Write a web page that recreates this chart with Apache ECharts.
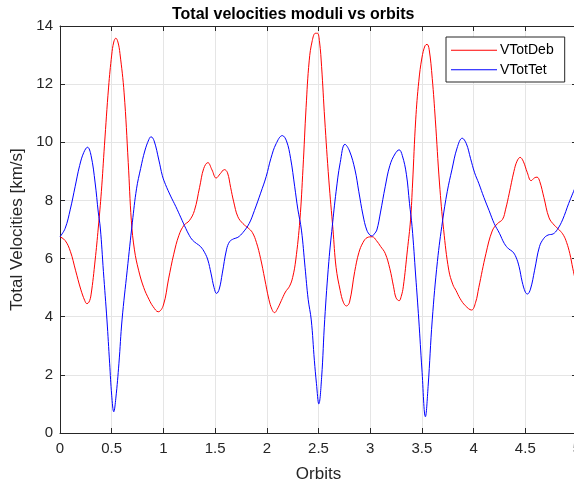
<!DOCTYPE html>
<html>
<head>
<meta charset="utf-8">
<script src="https://cdn.jsdelivr.net/npm/echarts@6/dist/echarts.min.js"></script>
<style>
  html, body { margin: 0; padding: 0; background: #fff; overflow: hidden; }
  #chart { width: 574px; height: 484px; }
</style>
</head>
<body>
<div id="chart"></div>
<script>
// Orbit positions and total velocity moduli [km/s] for the debris (VTotDeb)
const orbitsDeb = [0.00,0.05,0.10,0.15,0.20,0.24,0.26,0.28,0.30,0.34,0.37,0.40,0.43,0.47,0.50,0.52,0.54,0.56,0.58,0.62,0.66,0.69,0.72,0.76,0.81,0.86,0.90,0.95,1.00,1.05,1.10,1.15,1.20,1.25,1.30,1.35,1.39,1.43,1.47,1.51,1.55,1.59,1.62,1.65,1.68,1.72,1.77,1.82,1.86,1.90,1.94,1.98,2.02,2.05,2.075,2.10,2.14,2.18,2.22,2.25,2.28,2.32,2.35,2.38,2.41,2.44,2.47,2.49,2.51,2.53,2.56,2.60,2.64,2.67,2.71,2.74,2.77,2.80,2.85,2.89,2.93,2.97,3.02,3.06,3.10,3.145,3.19,3.226,3.25,3.28,3.30,3.32,3.36,3.39,3.41,3.44,3.47,3.50,3.53,3.55,3.57,3.60,3.63,3.67,3.71,3.76,3.80,3.83,3.87,3.92,3.98,4.02,4.05,4.12,4.18,4.23,4.28,4.31,4.345,4.39,4.42,4.45,4.48,4.52,4.556,4.59,4.614,4.64,4.68,4.73,4.78,4.83,4.87,4.90,4.93,4.96,5.00];
const vTotDeb = [6.75,6.62,6.25,5.6,4.95,4.55,4.45,4.5,4.75,5.95,7.05,8.3,9.9,11.9,13.0,13.45,13.58,13.45,13.05,11.7,9.3,7.3,6.3,5.6,5.0,4.6,4.35,4.17,4.4,5.3,6.15,6.8,7.15,7.3,7.65,8.45,9.1,9.3,9.05,8.77,8.92,9.06,8.95,8.45,7.95,7.44,7.2,7.05,6.9,6.55,6.0,5.3,4.6,4.25,4.14,4.25,4.55,4.85,5.05,5.35,5.95,7.33,9.1,11.2,12.8,13.5,13.75,13.75,13.45,12.6,10.8,8.7,7.0,5.7,4.9,4.5,4.37,4.5,5.55,6.2,6.55,6.72,6.75,6.62,6.42,6.18,5.65,5.03,4.65,4.55,4.7,5.03,6.3,7.33,8.6,10.77,12.1,12.9,13.32,13.37,13.2,12.2,10.77,8.6,7.0,5.6,5.1,4.9,4.62,4.38,4.23,4.5,5.0,6.18,6.95,7.2,7.35,7.7,8.25,9.0,9.35,9.48,9.35,8.95,8.68,8.78,8.8,8.65,8.1,7.4,7.15,6.98,6.8,6.55,6.18,5.65,5.0];

// Orbit positions and total velocity moduli [km/s] for the tether (VTotTet)
const orbitsTet = [0.00,0.05,0.10,0.146,0.19,0.23,0.266,0.30,0.34,0.37,0.39,0.42,0.454,0.48,0.50,0.52,0.54,0.57,0.60,0.65,0.70,0.74,0.78,0.82,0.86,0.88,0.91,0.956,0.99,1.02,1.07,1.12,1.17,1.216,1.25,1.28,1.32,1.36,1.40,1.43,1.46,1.49,1.514,1.54,1.57,1.61,1.64,1.68,1.72,1.77,1.83,1.88,1.94,1.994,2.04,2.09,2.15,2.19,2.23,2.27,2.30,2.335,2.37,2.40,2.43,2.46,2.48,2.503,2.53,2.56,2.60,2.633,2.67,2.71,2.756,2.80,2.853,2.89,2.93,2.967,3.00,3.02,3.04,3.064,3.10,3.145,3.19,3.24,3.28,3.31,3.35,3.38,3.405,3.44,3.47,3.50,3.534,3.56,3.60,3.65,3.70,3.745,3.79,3.84,3.89,3.93,3.97,4.01,4.05,4.10,4.15,4.20,4.25,4.297,4.34,4.377,4.41,4.44,4.47,4.50,4.52,4.55,4.59,4.637,4.68,4.72,4.77,4.81,4.86,4.92,4.96,5.00];
const vTotTet = [6.75,7.04,7.7,8.47,9.2,9.65,9.83,9.55,8.6,7.6,7.05,5.55,3.89,2.4,1.3,0.73,1.2,2.4,3.89,5.6,7.25,8.4,9.1,9.7,10.1,10.19,10.05,9.39,8.85,8.55,8.15,7.79,7.4,7.04,6.8,6.64,6.52,6.41,6.2,5.95,5.5,5.0,4.8,4.95,5.5,6.3,6.58,6.68,6.73,6.9,7.21,7.65,8.25,8.82,9.45,9.95,10.23,10.05,9.45,8.47,7.7,6.98,5.7,4.6,3.89,2.5,1.71,1.0,1.9,3.9,5.9,7.1,8.3,9.3,9.93,9.7,9.05,8.3,7.5,6.98,6.8,6.78,6.85,6.98,7.6,8.47,9.2,9.6,9.74,9.55,8.9,7.9,7.1,5.4,3.89,2.2,0.56,1.6,3.89,5.9,7.3,8.3,9.05,9.8,10.14,9.95,9.45,8.95,8.59,8.1,7.65,7.2,6.87,6.52,6.33,6.24,6.05,5.72,5.2,4.85,4.78,4.95,5.6,6.41,6.7,6.81,6.85,7.0,7.33,7.9,8.25,8.6];

// Axis ranges and tick spacing
const xRange = [0, 5];
const xStep = 0.5;
const yRange = [0, 14];
const yStep = 2;

const font = 'Liberation Sans, Arial, Helvetica, sans-serif';
const axisColor = '#262626';
const gridColor = '#e5e5e5';

function pairs(xs, ys) {
  return xs.map((x, i) => [x, ys[i]]);
}

const chart = echarts.init(document.getElementById('chart'), null, { renderer: 'canvas', width: 574, height: 484 });

const baseX = {
  type: 'value', min: xRange[0], max: xRange[1], interval: xStep,
  axisLine: { show: true, onZero: false, lineStyle: { color: axisColor, width: 1 } },
  axisTick: { show: true, inside: true, length: 5, lineStyle: { color: axisColor } },
};
const baseY = {
  type: 'value', min: yRange[0], max: yRange[1], interval: yStep,
  axisLine: { show: true, onZero: false, lineStyle: { color: axisColor, width: 1 } },
  axisTick: { show: true, inside: true, length: 5, lineStyle: { color: axisColor } },
};

chart.setOption({
  animation: false,
  backgroundColor: '#ffffff',
  title: {
    text: 'Total velocities moduli vs orbits',
    left: 167, top: 2,
    textStyle: { fontFamily: font, fontSize: 16, fontWeight: 'bold', color: '#000' }
  },
  // the plot box runs slightly past the right edge of the canvas
  grid: { left: 60, top: 26, width: 517, height: 407, containLabel: false, outerBoundsMode: 'none' },
  legend: {
    orient: 'vertical',
    left: 446, top: 37,
    padding: [6, 11, 5, 5],
    itemGap: 5,
    itemWidth: 46, itemHeight: 1,
    icon: 'rect',
    backgroundColor: '#ffffff',
    borderColor: axisColor, borderWidth: 1,
    textStyle: { fontFamily: font, fontSize: 14, color: '#000', lineHeight: 14.5, padding: [0, 0, 0, -2] },
    data: ['VTotDeb', 'VTotTet']
  },
  xAxis: [
    Object.assign({}, baseX, {
      position: 'bottom',
      name: 'Orbits', nameLocation: 'middle', nameGap: 33,
      nameTextStyle: { fontFamily: font, fontSize: 17, color: axisColor },
      axisLabel: { fontFamily: font, fontSize: 15, color: axisColor, margin: 8 },
      splitLine: { show: true, lineStyle: { color: gridColor, width: 1 } }
    }),
    Object.assign({}, baseX, {
      position: 'top',
      axisLabel: { show: false },
      splitLine: { show: false }
    })
  ],
  yAxis: [
    Object.assign({}, baseY, {
      position: 'left',
      name: 'Total Velocities [km/s]', nameLocation: 'middle', nameGap: 26,
      nameTextStyle: { fontFamily: font, fontSize: 17, color: axisColor },
      axisLabel: { fontFamily: font, fontSize: 15, color: axisColor, margin: 7 },
      splitLine: { show: true, lineStyle: { color: gridColor, width: 1 } }
    }),
    Object.assign({}, baseY, {
      position: 'right',
      axisLabel: { show: false },
      splitLine: { show: false }
    })
  ],
  series: [
    {
      name: 'VTotDeb', type: 'line', xAxisIndex: 0, yAxisIndex: 0,
      data: pairs(orbitsDeb, vTotDeb),
      smooth: 0.4, showSymbol: false, symbol: 'none',
      itemStyle: { color: '#ff0000' },
      lineStyle: { color: '#ff0000', width: 1 }
    },
    {
      name: 'VTotTet', type: 'line', xAxisIndex: 0, yAxisIndex: 0,
      data: pairs(orbitsTet, vTotTet),
      smooth: 0.4, showSymbol: false, symbol: 'none',
      itemStyle: { color: '#0000ff' },
      lineStyle: { color: '#0000ff', width: 1 }
    }
  ]
});
</script>
</body>
</html>
